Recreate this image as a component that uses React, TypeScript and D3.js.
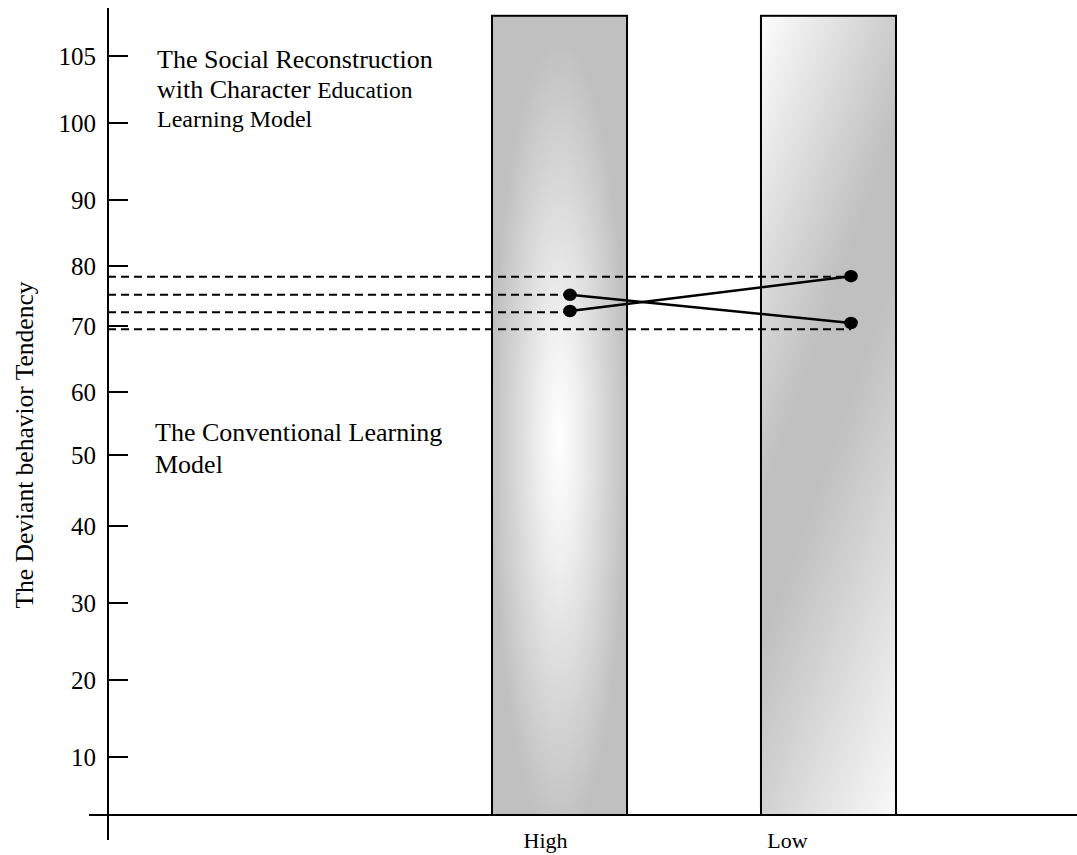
import React from 'react';
import * as d3 from 'd3';

// categories on the x axis
const categories = ['High', 'Low'];

// y axis tick values (the original axis is drawn by hand, so spacing is uneven)
const yTicks = [10, 20, 30, 40, 50, 60, 70, 80, 90, 100, 105];

// the two model lines, one value per category
const socialValues = [72.5, 78.3];
const conventionalValues = [75.2, 70.5];

// dashed guide levels leading to each point from the axis
const socialGuides = [72.3, 78.2];
const conventionalGuides = [75.2, 69.5];

const barTopValue = 108;

const socialLabel = ['The Social Reconstruction', 'with Character ', 'Education', 'Learning Model'];
const conventionalLabel = ['The Conventional Learning', 'Model'];
const yTitle = 'The Deviant behavior Tendency';

const W = 1077;
const H = 855;
const axisX = 108;
const axisY = 815;
// pixel position of each y tick on the hand-drawn axis
const tickPx = [757, 680, 603, 526, 455, 392, 326, 266, 200, 123, 56];

const font = '"Liberation Serif", "Times New Roman", serif';

export default function App() {
  const y = d3.scaleLinear().domain(yTicks).range(tickPx);

  const xBar = d3.scaleBand()
    .domain(categories)
    .range([357.5, 1030.5])
    .paddingInner(0.498)
    .paddingOuter(0.5);
  const xDot = d3.scalePoint().domain(categories).range([570, 851]);
  const xLabel = d3.scalePoint().domain(categories).range([545.5, 787.5]);

  const series = [
    { values: socialValues, guides: socialGuides },
    { values: conventionalValues, guides: conventionalGuides },
  ];

  const line = d3.line<number>()
    .x((_, i) => xDot(categories[i])!)
    .y(d => y(d));

  const barTop = y(barTopValue);

  // low bar: diagonal reflected gradient, laid out in user space
  const lowX = xBar('Low')!;
  const bw = xBar.bandwidth();
  const nx = 0.942, ny = 0.335;
  const bandX = lowX, bandY = 550;
  const g1 = { x: bandX - 185 * nx, y: bandY - 185 * ny };
  const g2 = { x: bandX + 235 * nx, y: bandY + 235 * ny };

  return (
    <div style={{ position: 'absolute', left: 0, top: 0 }}>
      <svg width={W} height={H} style={{ display: 'block', background: '#fff' }} fontFamily={font}>
        <defs>
          <radialGradient id="gHigh" cx="0.5" cy="0.53" r="0.5" fx="0.5" fy="0.53">
            <stop offset="0" stopColor="#ffffff" />
            <stop offset="0.3" stopColor="#efefef" />
            <stop offset="1" stopColor="#c0c0c0" />
          </radialGradient>
          <linearGradient id="gLow" gradientUnits="userSpaceOnUse" x1={g1.x} y1={g1.y} x2={g2.x} y2={g2.y}>
            <stop offset="0" stopColor="#ffffff" />
            <stop offset="0.4" stopColor="#c0c0c0" />
            <stop offset="0.52" stopColor="#c0c0c0" />
            <stop offset="1" stopColor="#ffffff" />
          </linearGradient>
        </defs>

        {categories.map(c => (
          <rect key={c}
            x={xBar(c)} y={barTop}
            width={bw} height={axisY - barTop}
            fill={c === 'High' ? 'url(#gHigh)' : 'url(#gLow)'}
            stroke="#000" strokeWidth={2} />
        ))}

        {/* axes */}
        <line x1={axisX} y1={8} x2={axisX} y2={840} stroke="#000" strokeWidth={2} />
        <line x1={89} y1={axisY} x2={W} y2={axisY} stroke="#000" strokeWidth={2} />
        {yTicks.map(t => (
          <g key={t}>
            <line x1={axisX} x2={axisX + 20} y1={y(t)} y2={y(t)} stroke="#000" strokeWidth={2} />
            <text x={96} y={y(t) + 8.5} textAnchor="end" fontSize={25}>{t}</text>
          </g>
        ))}

        {/* dashed guides */}
        {series.map((s, si) => s.guides.map((g, i) => (
          <line key={`${si}-${i}`}
            x1={axisX} x2={xDot(categories[i])! - (i === 0 ? 4 : 0)}
            y1={y(g)} y2={y(g)}
            stroke="#000" strokeWidth={2} strokeDasharray="8 5" />
        )))}

        {/* model lines */}
        {series.map((s, si) => (
          <g key={si}>
            <path d={line(s.values)!} fill="none" stroke="#000" strokeWidth={2.4} />
            {s.values.map((v, i) => (
              <ellipse key={i} cx={xDot(categories[i])} cy={y(v)} rx={6.8} ry={6.2} fill="#000" />
            ))}
          </g>
        ))}

        {/* annotations */}
        <text x={157} y={68} fontSize={26}>{socialLabel[0]}</text>
        <text x={157} y={98} fontSize={26}>
          {socialLabel[1]}
          <tspan fontSize={23.5}>{socialLabel[2]}</tspan>
        </text>
        <text x={157} y={127} fontSize={24}>{socialLabel[3]}</text>

        <text x={155} y={441} fontSize={26}>{conventionalLabel[0]}</text>
        <text x={155} y={473} fontSize={26}>{conventionalLabel[1]}</text>

        <text transform={`translate(33,445) rotate(-90)`} textAnchor="middle" fontSize={25.5}>{yTitle}</text>

        {categories.map(c => (
          <text key={c} x={xLabel(c)} y={848} textAnchor="middle" fontSize={22}>{c}</text>
        ))}
      </svg>
    </div>
  );
}
